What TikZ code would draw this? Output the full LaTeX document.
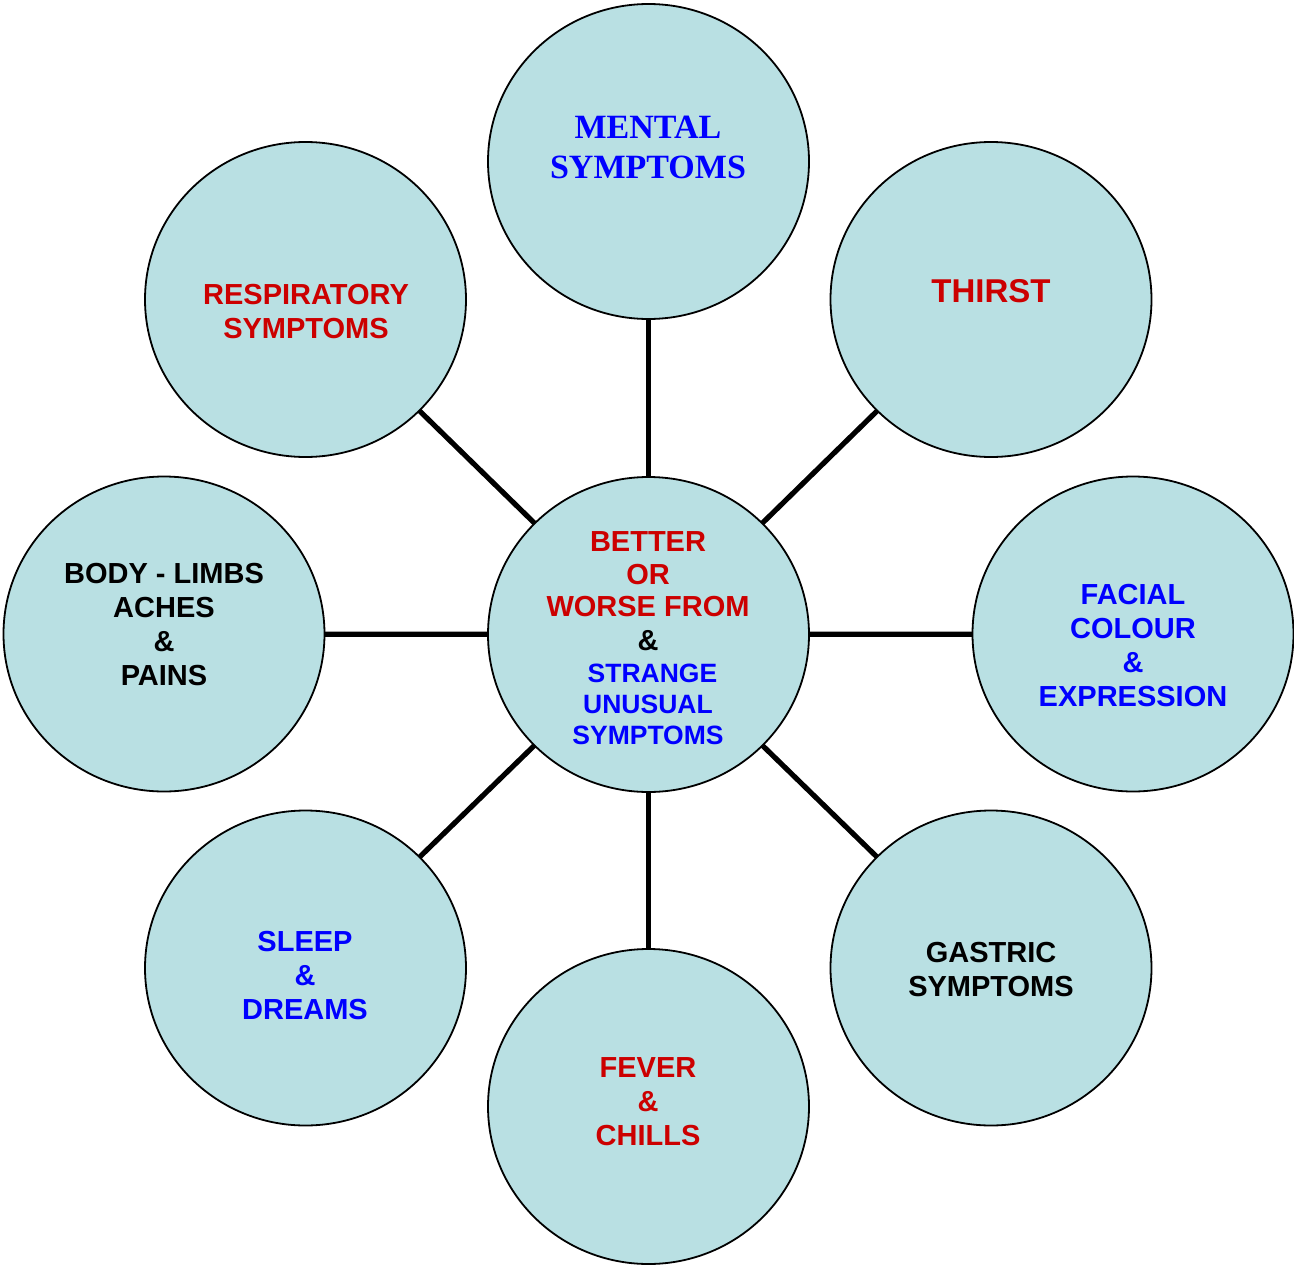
\documentclass[tikz,border=0pt]{standalone}
\usepackage{fontspec}
\setmainfont{Liberation Sans}
\newfontfamily\timesfont{Liberation Serif}
\usetikzlibrary{shapes.geometric}
\definecolor{bubblefill}{RGB}{185,224,227}
\definecolor{dred}{RGB}{204,0,0}
\definecolor{dblue}{RGB}{0,0,255}
\newcommand\redline{\color{dred}\fontsize{29}{33}\selectfont}
\newcommand\blueline{\color{dblue}\fontsize{26.5}{31}\selectfont}
\newcommand\blackline{\color{black}\fontsize{29}{33}\selectfont}
\tikzset{
  bubble/.style={ellipse, draw=black, line width=1.8pt, fill=bubblefill,
    minimum width=321pt, minimum height=315pt, inner sep=0pt, outer sep=0pt},
  spoke/.style={line width=5.2pt, black},
  lbl/.style={align=center, inner sep=0pt, font=\bfseries\fontsize{29}{34}\selectfont},
}
\begin{document}
\begin{tikzpicture}[x=1pt,y=-1pt]
\useasboundingbox (0,0) rectangle (1294,1266);
\fill[white] (0,0) rectangle (1294,1266);
% circles
\node[bubble] (c) at (648.5,634.5) {};
\node[bubble] (m) at (648.5,161.5) {};
\node[bubble] (t) at (991,299.5) {};
\node[bubble] (r) at (305.5,299.5) {};
\node[bubble] (b) at (164,634) {};
\node[bubble] (f) at (1133,634) {};
\node[bubble] (s) at (305.5,968) {};
\node[bubble] (v) at (648.5,1106.5) {};
\node[bubble] (g) at (991,968) {};
% spokes
\foreach \o in {m,t,r,b,f,s,v,g}
  \draw[spoke] (c) -- (\o);
% texts
\node[lbl, font=\bfseries\timesfont\fontsize{34}{40}\selectfont, text=dblue] (tm) at (648,147) {MENTAL\\SYMPTOMS};
\node[lbl, text=dred] (tr) at (306,312) {RESPIRATORY\\SYMPTOMS};
\node[lbl, font=\bfseries\fontsize{33}{38}\selectfont, text=dred] (tt) at (991,291) {THIRST};
\node[lbl, text=black] (tb) at (164,625) {BODY - LIMBS\\ACHES\\\&\\PAINS};
\node[lbl, text=dblue] (tf) at (1133,646) {FACIAL\\COLOUR\\\&\\EXPRESSION};
\node[lbl, text=dblue] (ts) at (305,976) {SLEEP\\\&\\DREAMS};
\node[lbl, text=dred] (tv) at (648,1102) {FEVER\\\&\\CHILLS};
\node[lbl, text=black] (tg) at (991,970) {GASTRIC\\SYMPTOMS};
\node[lbl] (tc) at (648,638) {\redline BETTER\\[-1pt]\redline OR\\[-2pt]\redline WORSE FROM\\[0pt]\blackline\&\\[-2pt]\blueline\hspace*{9pt}STRANGE\\[-3pt]\blueline UNUSUAL\\[-3pt]\blueline SYMPTOMS};
\end{tikzpicture}
\end{document}
